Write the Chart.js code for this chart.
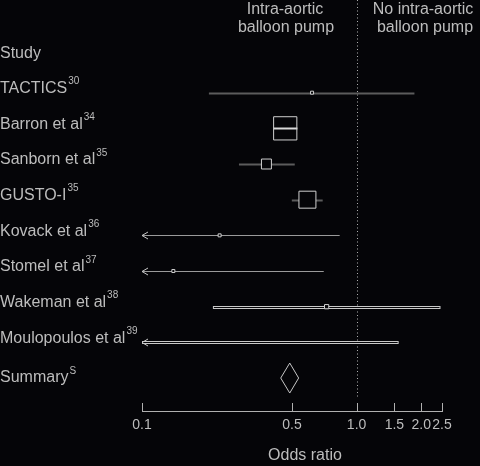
<!DOCTYPE html>
<html>
<head>
<meta charset="utf-8">
<script src="https://cdn.jsdelivr.net/npm/chart.js@4.4.1/dist/chart.umd.min.js"></script>
<style>
  body { margin: 0; background: #050508; }
  #wrap { width: 480px; height: 466px; }
</style>
</head>
<body>
<div id="wrap"><canvas id="myChart" width="480" height="466"></canvas></div>
<script>
"use strict";

const studies = ['TACTICS', 'Barron et al', 'Sanborn et al', 'GUSTO-I', 'Kovack et al', 'Stomel et al', 'Wakeman et al', 'Moulopoulos et al'];
const refs = ['30', '34', '35', '35', '36', '37', '38', '39'];
const oddsRatio = [0.62, 0.465, 0.38, 0.59, 0.23, 0.14, 0.725, 0.08];
const lowerCI = [0.205, 0.41, 0.283, 0.499, 0.03, 0.02, 0.214, 0.01];
const upperCI = [1.86, 0.53, 0.515, 0.695, 0.834, 0.703, 2.46, 1.57];
const weights = [1, 60, 11, 32, 1, 1, 2, 2];

const summaryLabel = 'Summary';
const summaryRef = 'S';
const summaryOR = 0.488;
const summaryLower = 0.443;
const summaryUpper = 0.537;

const tickValues = [0.1, 0.5, 1, 1.5, 2, 2.5];
const tickLabels = ['0.1', '0.5', '1.0', '1.5', '2.0', '2.5'];

const bg = '#050508';
const txt = '#bdbdbd';
const fam = '"Liberation Sans", Arial, sans-serif';

// line look of each study row
const ciStyles = [
  { color: '#5c5c5c', width: 2 },
  { color: '#d8d8d8', width: 2 },
  { color: '#5c5c5c', width: 2 },
  { color: '#5c5c5c', width: 2 },
  { color: '#9a9a9a', width: 1 },
  { color: '#9a9a9a', width: 1 },
  { color: '#c8c8c8', width: 3, double: true },
  { color: '#c8c8c8', width: 3, double: true }
];

function drawText(ctx, s, sup, x, y) {
  ctx.font = '16px ' + fam;
  ctx.fillText(s, x, y);
  const w = ctx.measureText(s).width;
  ctx.font = '10px ' + fam;
  ctx.fillText(sup, x + w + 1, y - 7);
}

const forestPlugin = {
  id: 'forest',
  beforeDatasetsDraw(chart) {
    const ctx = chart.ctx;
    const xs = chart.scales.x;
    const ys = chart.scales.y;
    const area = chart.chartArea;
    ctx.save();

    // dotted line at odds ratio 1
    const x1 = Math.round(xs.getPixelForValue(1)) + 0.5;
    ctx.strokeStyle = '#b0b0b0';
    ctx.lineWidth = 1;
    ctx.setLineDash([1, 2.5]);
    ctx.beginPath();
    ctx.moveTo(x1, area.top);
    ctx.lineTo(x1, area.bottom - 14);
    ctx.stroke();
    ctx.setLineDash([]);

    studies.forEach((s, i) => {
      const y = Math.round(ys.getPixelForValue(i + 1)) + 0.5;
      const st = ciStyles[i];
      const lo = Math.max(lowerCI[i], xs.min);
      const hi = Math.min(upperCI[i], xs.max);
      const xa = xs.getPixelForValue(lo);
      const xb = xs.getPixelForValue(hi);
      ctx.strokeStyle = st.color;
      ctx.lineWidth = st.width;
      ctx.beginPath();
      ctx.moveTo(xa, y);
      ctx.lineTo(xb, y);
      ctx.stroke();
      if (st.double) {
        ctx.strokeStyle = bg;
        ctx.lineWidth = 1;
        ctx.beginPath();
        ctx.moveTo(xa + 1, y);
        ctx.lineTo(xb - 1, y);
        ctx.stroke();
      }
      if (lowerCI[i] < xs.min) {
        ctx.strokeStyle = '#c8c8c8';
        ctx.lineWidth = 1;
        ctx.beginPath();
        ctx.moveTo(xa + 6, y - 3.5);
        ctx.lineTo(xa, y);
        ctx.lineTo(xa + 6, y + 3.5);
        ctx.stroke();
      }
    });

    // summary diamond
    const yd = ys.getPixelForValue(studies.length + 1);
    ctx.strokeStyle = '#c8c8c8';
    ctx.lineWidth = 1;
    ctx.beginPath();
    ctx.moveTo(xs.getPixelForValue(summaryLower), yd);
    ctx.lineTo(xs.getPixelForValue(summaryOR), yd - 15);
    ctx.lineTo(xs.getPixelForValue(summaryUpper), yd);
    ctx.lineTo(xs.getPixelForValue(summaryOR), yd + 15);
    ctx.closePath();
    ctx.stroke();
    ctx.restore();
  },
  afterDraw(chart) {
    const ctx = chart.ctx;
    const xs = chart.scales.x;
    const ys = chart.scales.y;
    const area = chart.chartArea;
    ctx.save();

    // upward tick marks
    ctx.strokeStyle = '#b0b0b0';
    ctx.lineWidth = 1;
    tickValues.forEach(v => {
      const px = Math.round(xs.getPixelForValue(v)) + 0.5;
      ctx.beginPath();
      ctx.moveTo(px, area.bottom - 8);
      ctx.lineTo(px, area.bottom);
      ctx.stroke();
    });

    ctx.fillStyle = txt;
    ctx.textBaseline = 'middle';
    ctx.textAlign = 'left';
    ctx.font = '16px ' + fam;
    ctx.fillText('Study', 0, ys.getPixelForValue(0) - 3);
    studies.forEach((s, i) => {
      drawText(ctx, s, refs[i], 0, ys.getPixelForValue(i + 1) - 4);
    });
    drawText(ctx, summaryLabel, summaryRef, 0, ys.getPixelForValue(studies.length + 1));

    ctx.font = '16px ' + fam;
    ctx.textAlign = 'center';
    ctx.fillText('Intra-aortic', 285, 10);
    ctx.fillText('balloon pump', 286, 28);
    ctx.fillText('No intra-aortic', 423, 10);
    ctx.fillText('balloon pump', 425, 28);
    ctx.fillText('Odds ratio', 305, 456);
    ctx.restore();
  }
};

const ctx = document.getElementById('myChart');

new Chart(ctx, {
  type: 'scatter',
  data: {
    datasets: [{
      data: oddsRatio.map((v, i) => ({ x: v, y: i + 1 })),
      pointStyle: 'rect',
      pointRadius: weights.map(w => 3 * Math.sqrt(w) / Math.SQRT2),
      pointBorderWidth: 1,
      pointBorderColor: '#d0d0d0',
      pointBackgroundColor: weights.map((w, i) => i === 1 ? 'rgba(0,0,0,0)' : bg),
      clip: 0
    }]
  },
  options: {
    responsive: false,
    animation: false,
    layout: { autoPadding: false, padding: { left: 142, right: 38, top: 0, bottom: 0 } },
    plugins: {
      legend: { display: false },
      tooltip: { enabled: false }
    },
    scales: {
      x: {
        type: 'logarithmic',
        min: 0.1,
        max: 2.5,
        afterBuildTicks: s => { s.ticks = tickValues.map(v => ({ value: v })); },
        afterFit: s => { s.height = 55; },
        grid: { display: false, drawTicks: false },
        border: { display: true, color: '#b0b0b0', width: 1 },
        ticks: {
          color: txt,
          font: { family: fam, size: 14 },
          padding: 6,
          maxRotation: 0,
          autoSkip: false,
          callback: (v, i) => tickLabels[i]
        }
      },
      y: {
        type: 'linear',
        display: false,
        reverse: true,
        min: -1.598,
        max: 9.924
      }
    }
  },
  plugins: [forestPlugin]
});
</script>
</body>
</html>
